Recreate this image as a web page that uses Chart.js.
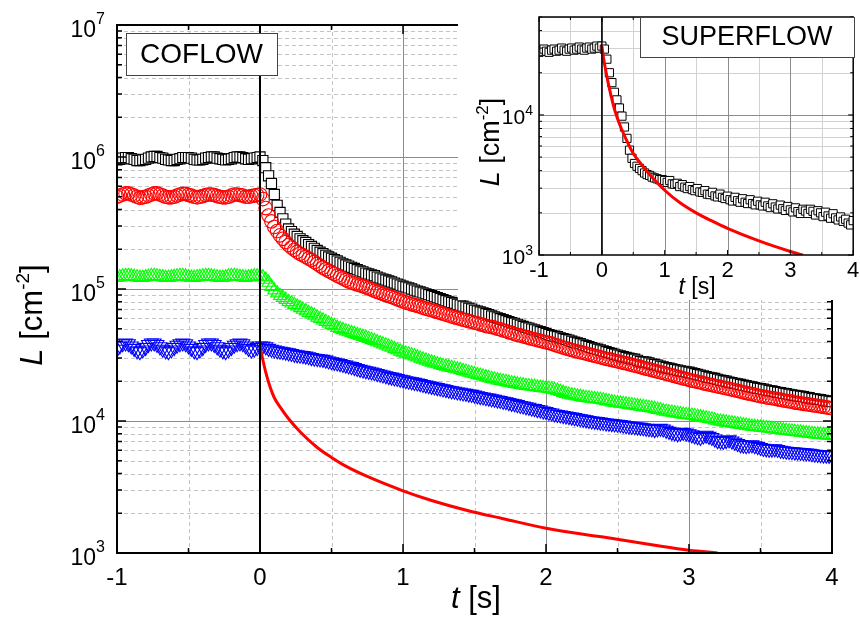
<!DOCTYPE html>
<html><head><meta charset="utf-8">
<script src="https://cdn.jsdelivr.net/npm/chart.js@4.4.0/dist/chart.umd.min.js"></script>
<style>
html,body{margin:0;padding:0;background:#fff;}
#wrap{position:relative;width:860px;height:617px;overflow:hidden;}
#main{position:absolute;left:0;top:0;}
#insetBox{position:absolute;left:458px;top:0;width:402px;height:300px;background:#fff;}
</style></head><body>
<div id="wrap">
<canvas id="main" width="860" height="617"></canvas>
<div id="insetBox"><canvas id="inset" width="402" height="300"></canvas></div>
</div>
<script>
// ---------------- DATA ----------------
// main (COFLOW) sampling times [s]
const tSec = [-1,-0.98,-0.96,-0.94,-0.92,-0.9,-0.88,-0.86,-0.84,-0.82,-0.8,-0.78,-0.76,-0.74,-0.72,-0.7,-0.68,-0.66,-0.64,-0.62,
-0.6,-0.58,-0.56,-0.54,-0.52,-0.5,-0.48,-0.46,-0.44,-0.42,-0.4,-0.38,-0.36,-0.34,-0.32,-0.3,-0.28,-0.26,-0.24,-0.22,
-0.2,-0.18,-0.16,-0.14,-0.12,-0.1,-0.08,-0.06,-0.04,-0.02,
0,0.02,0.04,0.06,0.08,0.1,0.12,0.14,0.16,0.18,0.2,0.22,0.24,0.26,0.28,0.3,0.32,0.34,0.36,0.38,
0.4,0.42,0.44,0.46,0.48,0.5,0.52,0.54,0.56,0.58,0.6,0.62,0.64,0.66,0.68,0.7,0.72,0.74,0.76,0.78,
0.8,0.82,0.84,0.86,0.88,0.9,0.92,0.94,0.96,0.98,1,1.02,1.04,1.06,1.08,1.1,1.12,1.14,1.16,1.18,
1.2,1.22,1.24,1.26,1.28,1.3,1.32,1.34,1.36,1.38,1.4,1.42,1.44,1.46,1.48,1.5,1.52,1.54,1.56,1.58,
1.6,1.62,1.64,1.66,1.68,1.7,1.72,1.74,1.76,1.78,1.8,1.82,1.84,1.86,1.88,1.9,1.92,1.94,1.96,1.98,
2,2.02,2.04,2.06,2.08,2.1,2.12,2.14,2.16,2.18,2.2,2.22,2.24,2.26,2.28,2.3,2.32,2.34,2.36,2.38,
2.4,2.42,2.44,2.46,2.48,2.5,2.52,2.54,2.56,2.58,2.6,2.62,2.64,2.66,2.68,2.7,2.72,2.74,2.76,2.78,
2.8,2.82,2.84,2.86,2.88,2.9,2.92,2.94,2.96,2.98,3,3.02,3.04,3.06,3.08,3.1,3.12,3.14,3.16,3.18,
3.2,3.22,3.24,3.26,3.28,3.3,3.32,3.34,3.36,3.38,3.4,3.42,3.44,3.46,3.48,3.5,3.52,3.54,3.56,3.58,
3.6,3.62,3.64,3.66,3.68,3.7,3.72,3.74,3.76,3.78,3.8,3.82,3.84,3.86,3.88,3.9,3.92,3.94,3.96,3.98,4];

// vortex line density L, in units of 10^3 cm^-2
const coflowBlack = [950,960,980,990,990,970,960,940,940,950,960,980,1000,1010,1010,990,980,960,950,940,
940,960,970,990,990,990,980,960,950,950,960,980,990,1000,1000,980,970,960,950,960,
970,990,1000,1000,990,970,960,970,980,990,
1000,940,830,720,630,520,430,380,340,310,285,272,260,250,240,232,225,217,210,203,
196,190,185,180,175,171,167,163,159,155,152,149,146,143,140,137,135,132,130,128,
126,123,121,119,117,115,113,111,109,107,105,103.5,102,100,98,96.5,95,93.5,92,90.5,
89,87.5,86,84.5,83,81.5,80,79,78,76.5,75.5,74,73,71.5,70.5,69,68,67,66,65,
64,62.5,61.5,60.5,59.5,58.5,57.5,56.5,55.5,55,54,53,52,51.2,50.5,49.7,49,48.2,47.5,46.7,
46,45.2,44.5,44,43.5,42.7,42,41.5,41,40.2,39.5,39,38.5,37.8,37.2,36.6,36,35.5,35,34.5,
34,33.5,33,32.5,32,31.6,31.2,30.7,30.3,29.9,29.5,29.4,28.8,28.2,28,27.9,27.5,27,26.8,26.5,
26,25.7,25.4,25.1,24.8,24.5,24.3,24,23.8,23.6,23.4,23.1,22.8,22.5,22.3,22,21.7,21.4,21.2,21,
20.7,20.4,20.2,20,19.7,19.5,19.3,19.1,18.9,18.7,18.5,18.3,18.1,17.9,17.7,17.6,17.4,17.2,17,16.9,
16.7,16.5,16.4,16.2,16.1,15.9,15.8,15.6,15.5,15.4,15.3,15.1,15,14.8,14.7,14.6,14.5,14.3,14.2,14.1,14];

const coflowRed = [500,510,520,530,530,520,510,500,490,495,500,510,520,530,530,520,510,500,495,495,
500,510,520,525,525,515,510,500,495,500,505,515,520,520,515,505,500,495,495,500,
510,520,520,515,510,500,500,505,510,515,
520,480,410,360,325,295,275,255,240,227,215,206,198,191,185,180,175,170,166,160,
155,150,145,141,137,133,130,126,123,120,117,114,112,110,108,106.5,105,103,101,99,
97,95,93.5,91.5,90,88.5,87,85.5,83.5,82,80.5,79,78,76.5,75.5,74.5,73.5,72,71,70,
69,68,67,66,65,64,63,62,61,60.5,59.5,58.5,58,57,56.5,55.5,55,54,53.5,52.5,
52,51.5,51,50,49.5,48.5,48,47,46.5,45.5,45,44.5,43.8,43.2,42.6,42,41.5,41,40.5,40,
39.5,39,38.5,37.8,37.2,36.6,36,35.5,35,34.5,34,33.6,33.2,32.8,32.4,32,31.6,31.2,30.8,30.4,
30,29.6,29.3,29,28.6,28.3,28,27.6,27.3,27,26.6,26.3,26,25.6,25.3,24.9,24.6,24.3,24,23.7,
23.4,23.1,22.8,22.5,22.2,21.9,21.6,21.3,21,20.8,20.5,20.2,20,19.8,19.6,19.3,19.1,18.9,18.7,18.5,
18.3,18.1,17.9,17.7,17.5,17.3,17.1,16.9,16.7,16.5,16.3,16.1,16,15.8,15.6,15.4,15.3,15.1,15,14.9,
14.8,14.6,14.5,14.3,14.2,14.1,14,13.8,13.7,13.6,13.5,13.4,13.3,13.2,13.1,13,12.9,12.8,12.7,12.6,12.5];

const coflowGreen = [122,123,125,126,126,125,124,123,122,122,123,124,126,126,125,124,123,122,122,123,
124,125,126,126,125,123,122,122,123,124,125,126,126,125,124,123,122,122,123,125,
126,126,125,124,123,122,123,124,125,125,
125,123,118,112,104,98,93,89,86,83,80,78,76,74,72,70,68,66,64.5,63,
61,59.5,58,56.5,55,53.5,52.5,51,50,49,48,47.2,46.5,45.7,45,44.2,43.5,42.8,42,41.2,
40.5,39.7,39,38.2,37.5,36.7,36,35.2,34.5,33.7,33,32.5,32,31.5,31,30.4,29.8,29.3,28.8,28.3,
27.8,27.4,27,26.6,26.2,25.9,25.6,25.3,25,24.7,24.4,24,23.7,23.3,23,22.7,22.4,22.1,21.8,21.5,
21.2,20.9,20.7,20.4,20.2,20,19.8,19.6,19.4,19.2,19,18.8,18.7,18.5,18.4,18.3,18.2,18,17.9,17.8,
17.7,17.6,17.4,17.2,17,16.7,16.4,16.1,15.9,15.7,15.6,15.4,15.3,15.1,15,14.9,14.8,14.7,14.6,14.5,
14.4,14.2,14.1,13.9,13.8,13.7,13.6,13.5,13.4,13.3,13.2,13.1,13,12.9,12.8,12.7,12.6,12.5,12.4,12.2,
12.1,11.9,11.8,11.7,11.6,11.5,11.4,11.3,11.2,11.15,11.1,11,10.9,10.8,10.7,10.6,10.5,10.4,10.3,10.15,
10,9.92,9.85,9.77,9.7,9.62,9.55,9.47,9.4,9.32,9.25,9.17,9.1,9.05,9,8.95,8.9,8.85,8.8,8.72,
8.65,8.6,8.55,8.5,8.45,8.4,8.35,8.3,8.25,8.2,8.15,8.1,8.05,8,7.95,7.92,7.9,7.85,7.8,7.78,7.75];

const coflowBlue = [35,37,38.5,39,38.5,37,35.5,34,33.5,34.5,36,38,39,39,38,36.5,35,34,33.5,34.5,
36,37.5,38.5,39,38.5,37,35.5,34,33.5,34.5,36,38,39,39,38,36.5,35,34,33.5,34.5,
36,37.5,38.5,39,38.5,37,35.5,34.5,35,36,
37,37,36.5,35.5,35,34.5,34,33.8,33.5,33.2,32.8,32.5,32,31.7,31.5,31.3,31,30.7,30.2,29.9,
29.7,29.5,29.3,28.9,28.5,28.1,27.8,27.5,27.2,26.8,26.5,26.1,25.8,25.4,25,24.6,24.3,24,23.8,23.5,
23.2,22.9,22.6,22.3,22,21.7,21.5,21.2,21,20.7,20.5,20.2,20,19.8,19.6,19.4,19.2,18.9,18.7,18.5,
18.3,18.1,17.9,17.7,17.5,17.3,17.1,16.9,16.8,16.6,16.5,16.3,16.2,16,15.9,15.7,15.5,15.3,15.2,15,
14.9,14.7,14.6,14.4,14.3,14.1,14,13.8,13.6,13.5,13.3,13.1,13,12.8,12.7,12.5,12.4,12.2,12.1,11.9,
11.8,11.6,11.5,11.3,11.2,11.1,11,10.9,10.8,10.7,10.6,10.5,10.4,10.3,10.2,10.1,10,9.95,9.9,9.8,
9.75,9.65,9.6,9.55,9.5,9.45,9.4,9.3,9.2,9.15,9.1,9.05,9,8.95,8.9,8.8,8.75,8.7,8.6,8.7,
8.8,8.7,8.5,8.35,8.2,8.1,8,8.1,8.2,8.1,8,7.85,7.7,7.6,7.5,7.7,7.8,7.65,7.5,7.3,
7.1,7.05,7,7.1,7.2,7.05,6.9,6.75,6.6,6.55,6.5,6.55,6.6,6.5,6.4,6.3,6.2,6.15,6.1,6.12,
6.15,6.08,6,5.95,5.9,5.88,5.85,5.82,5.8,5.78,5.75,5.72,5.7,5.65,5.6,5.58,5.55,5.52,5.5,5.48,5.45];

// Vinen-model decay curve (red line), COFLOW panel
const coflowTheoryT = [0,0.02,0.04,0.07,0.1,0.14,0.2,0.28,0.4,0.5,0.6,0.75,1.0,1.2,1.45,1.7,2.0,2.4,2.75,3.0,3.2];
const coflowTheoryL = [36.6,29,23.5,18.2,15,12.8,10.4,8.3,6.3,5.3,4.55,3.8,2.96,2.5,2.1,1.82,1.54,1.32,1.15,1.05,1.0];

// SUPERFLOW inset
const superT = [-1,-0.96,-0.92,-0.88,-0.84,-0.8,-0.76,-0.72,-0.68,-0.64,-0.6,-0.56,-0.52,-0.48,-0.44,-0.4,-0.36,-0.32,-0.28,-0.24,-0.2,-0.16,-0.12,-0.08,-0.04,
0,0.04,0.08,0.12,0.16,0.2,0.24,0.28,0.32,0.36,0.4,0.44,0.48,0.52,0.56,0.6,0.64,0.68,0.72,0.76,0.8,0.84,0.88,0.92,0.96,1,
1.04,1.08,1.12,1.16,1.2,1.24,1.28,1.32,1.36,1.4,1.44,1.48,1.52,1.56,1.6,1.64,1.68,1.72,1.76,1.8,1.84,1.88,1.92,1.96,2,
2.04,2.08,2.12,2.16,2.2,2.24,2.28,2.32,2.36,2.4,2.44,2.48,2.52,2.56,2.6,2.64,2.68,2.72,2.76,2.8,2.84,2.88,2.92,2.96,3,
3.04,3.08,3.12,3.16,3.2,3.24,3.28,3.32,3.36,3.4,3.44,3.48,3.52,3.56,3.6,3.64,3.68,3.72,3.76,3.8,3.84,3.88,3.92,3.96,4];
const superBlack = [28,28.5,29.5,28.5,28,29,29.5,28.5,29,30,29,28.5,29.5,30,29,29.5,30.5,29.5,29,30,30.5,29.5,30,31,30,
31,29.5,25,20,17,14.5,12.8,11.2,9.8,8.2,
6.8,5.6,4.9,4.5,4.3,4.15,4.0,3.85,3.75,3.7,3.6,3.55,3.5,3.45,3.45,3.4,
3.3,3.4,3.22,3.2,3.25,3.08,3.18,3.05,2.98,3.08,2.93,2.88,2.98,2.82,2.8,2.88,2.72,2.7,2.8,2.64,2.6,2.72,2.58,2.53,2.63,
2.48,2.43,2.58,2.44,2.38,2.52,2.38,2.33,2.48,2.33,2.28,2.42,2.28,2.24,2.38,2.24,2.18,2.32,2.2,2.13,2.27,2.14,2.08,2.22,2.1,
2.03,2.17,2.04,1.98,2.12,2.06,1.98,2.12,2.05,1.93,2.07,2.0,1.88,2.02,1.9,1.83,1.97,1.84,1.78,1.87,1.74,1.8,1.69,1.64,1.76];
const superTheoryT = [0,0.03,0.06,0.1,0.15,0.2,0.25,0.3,0.4,0.5,0.6,0.75,1.0,1.25,1.5,1.75,2.0,2.5,3.0,3.2];
const superTheoryL = [31,25,21,17,13.5,11,9.4,8.2,6.5,5.3,4.6,3.8,2.9,2.35,2.0,1.75,1.55,1.26,1.06,1.0];

const mainXTicks = [-1,0,1,2,3,4];
const mainYExp = [3,4,5,6,7];
const insetXTicks = [-1,0,1,2,3,4];
const insetYExp = [3,4];

// ---------------- HELPERS ----------------
const FONT = '"Liberation Sans", Arial, sans-serif';
const KILO = 1e3; // data arrays are in 10^3 cm^-2
const pts = (ts, ls) => ts.map((t, i) => ({x: t, y: ls[i] * KILO}));

function drawPow(ctx, exp, xRight, y, f1, f2, dyBase, dyExp) {
  ctx.save();
  ctx.fillStyle = '#000';
  ctx.textAlign = 'right'; ctx.textBaseline = 'alphabetic';
  ctx.font = f2 + 'px ' + FONT;
  const we = ctx.measureText(String(exp)).width;
  ctx.fillText(String(exp), xRight, y + dyExp);
  ctx.font = f1 + 'px ' + FONT;
  ctx.fillText('10', xRight - we, y + dyBase);
  ctx.restore();
}

function drawRich(ctx, parts, cx, by, F) {
  const fontOf = p => (p.it ? 'italic ' : '') + (p.sup ? Math.round(F * 0.62) : F) + 'px ' + FONT;
  let w = 0;
  parts.forEach(p => { ctx.font = fontOf(p); p.w = ctx.measureText(p.t).width; w += p.w; });
  let x = cx - w / 2;
  ctx.textAlign = 'left'; ctx.textBaseline = 'alphabetic'; ctx.fillStyle = '#000';
  parts.forEach(p => { ctx.font = fontOf(p); ctx.fillText(p.t, x, by - (p.sup ? F * 0.42 : 0)); x += p.w; });
}

function gridPlugin(cfg) {
  const yList = ys => {
    const out = [];
    for (let e = Math.floor(Math.log10(ys.min) + 1e-9); e <= Math.ceil(Math.log10(ys.max) - 1e-9); e++)
      for (let m = 1; m <= 9; m++) {
        const v = m * Math.pow(10, e);
        if (v >= ys.min * 0.999 && v <= ys.max * 1.001) out.push({v, major: m === 1});
      }
    return out;
  };
  const xList = xs => {
    const out = [];
    for (let v = xs.min; v <= xs.max + 1e-9; v += 0.5) out.push({v, major: Math.abs(v - Math.round(v)) < 1e-9});
    return out;
  };
  return {
    id: 'grid_' + cfg.id,
    beforeDatasetsDraw(chart) {
      const {ctx, chartArea: a, scales: {x: xs, y: ys}} = chart;
      ctx.save();
      ctx.beginPath(); ctx.rect(a.left, a.top, a.right - a.left, a.bottom - a.top); ctx.clip();
      ctx.lineWidth = 1;
      const xv = xList(xs), yv = yList(ys);
      const line = (x1, y1, x2, y2) => { ctx.beginPath(); ctx.moveTo(x1, y1); ctx.lineTo(x2, y2); ctx.stroke(); };
      ctx.strokeStyle = cfg.minorColor; ctx.setLineDash(cfg.minorDash);
      xv.filter(o => !o.major).forEach(o => { const p = Math.round(xs.getPixelForValue(o.v)) + 0.5; line(p, a.top, p, a.bottom); });
      yv.filter(o => !o.major).forEach(o => { const p = Math.round(ys.getPixelForValue(o.v)) + 0.5; line(a.left, p, a.right, p); });
      ctx.strokeStyle = cfg.majorColor; ctx.setLineDash([]);
      xv.filter(o => o.major).forEach(o => { const p = Math.round(xs.getPixelForValue(o.v)) + 0.5; line(p, a.top, p, a.bottom); });
      yv.filter(o => o.major).forEach(o => { const p = Math.round(ys.getPixelForValue(o.v)) + 0.5; line(a.left, p, a.right, p); });
      ctx.restore();
    },
    afterDatasetsDraw(chart) {
      const {ctx, chartArea: a, scales: {x: xs, y: ys}} = chart;
      ctx.save();
      ctx.strokeStyle = '#000'; ctx.lineWidth = cfg.zeroWidth;
      const zx = xs.getPixelForValue(0);
      ctx.beginPath(); ctx.moveTo(zx, a.top); ctx.lineTo(zx, a.bottom); ctx.stroke();
      ctx.lineWidth = cfg.tickWidth;
      xList(xs).forEach(o => {
        const L = o.major ? cfg.tickMajor : cfg.tickMinor;
        const p = xs.getPixelForValue(o.v);
        ctx.beginPath(); ctx.moveTo(p, a.bottom); ctx.lineTo(p, a.bottom - L);
        ctx.moveTo(p, a.top); ctx.lineTo(p, a.top + L); ctx.stroke();
      });
      yList(ys).forEach(o => {
        const L = o.major ? cfg.tickMajor : cfg.tickMinor;
        const p = ys.getPixelForValue(o.v);
        ctx.beginPath(); ctx.moveTo(a.left, p); ctx.lineTo(a.left + L, p);
        ctx.moveTo(a.right, p); ctx.lineTo(a.right - L, p); ctx.stroke();
      });
      ctx.lineWidth = cfg.frameWidth;
      ctx.strokeRect(a.left, a.top, a.right - a.left, a.bottom - a.top);
      ctx.fillStyle = '#000';
      cfg.yExp.forEach(e => drawPow(ctx, e, cfg.yLabRight, ys.getPixelForValue(Math.pow(10, e)), cfg.yF1, cfg.yF2, cfg.yDyBase, cfg.yDyExp));
      ctx.font = cfg.xF + 'px ' + FONT; ctx.textAlign = 'center'; ctx.textBaseline = 'alphabetic';
      cfg.xTicks.forEach(v => ctx.fillText(String(v), xs.getPixelForValue(v), cfg.xLabBase));
      drawRich(ctx, [{t: 't', it: true}, {t: ' [s]'}], cfg.xTitle[0], cfg.xTitle[1], cfg.titleF);
      ctx.save();
      ctx.translate(cfg.yTitle[0], cfg.yTitle[1]); ctx.rotate(-Math.PI / 2);
      drawRich(ctx, [{t: 'L', it: true}, {t: ' [cm'}, {t: '-2', sup: true}, {t: ']'}], 0, 0, cfg.yTitleF);
      ctx.restore();
      const b = cfg.box;
      ctx.fillStyle = '#fff'; ctx.fillRect(b.x, b.y, b.w, b.h);
      ctx.strokeStyle = '#444'; ctx.lineWidth = 1;
      ctx.strokeRect(b.x + 0.5, b.y + 0.5, b.w, b.h);
      ctx.fillStyle = '#000'; ctx.font = b.f + 'px ' + FONT; ctx.textAlign = 'center'; ctx.textBaseline = 'middle';
      ctx.fillText(b.text, b.x + b.w / 2, b.y + b.h / 2 + 1);
      ctx.restore();
    }
  };
}

// ---------------- MAIN CHART ----------------
new Chart(document.getElementById('main'), {
  type: 'scatter',
  data: {
    datasets: [
      {data: pts(coflowTheoryT, coflowTheoryL), showLine: true, borderColor: '#ff0000', borderWidth: 3, pointRadius: 0, cubicInterpolationMode: 'monotone', order: 0},
      {data: pts(tSec, coflowBlue), pointStyle: 'triangle', rotation: 180, pointRadius: 8, pointBorderColor: '#0000ff', pointBackgroundColor: 'rgba(0,0,0,0)', pointBorderWidth: 1.1, order: 1},
      {data: pts(tSec, coflowGreen), pointStyle: 'triangle', pointRadius: 7.5, pointBorderColor: '#00ff00', pointBackgroundColor: 'rgba(0,0,0,0)', pointBorderWidth: 1.1, order: 2},
      {data: pts(tSec, coflowRed), pointStyle: 'circle', pointRadius: 6.8, pointBorderColor: '#ff0000', pointBackgroundColor: 'rgba(0,0,0,0)', pointBorderWidth: 1.1, order: 3},
      {data: pts(tSec, coflowBlack), pointStyle: 'rect', pointRadius: 7.2, pointBorderColor: '#000', pointBackgroundColor: '#fff', pointBorderWidth: 1.1, order: 4}
    ]
  },
  options: {
    responsive: false, animation: false, devicePixelRatio: 1,
    layout: {padding: {left: 117, right: 28, top: 25, bottom: 64}},
    scales: {
      x: {type: 'linear', min: -1, max: 4, display: false},
      y: {type: 'logarithmic', min: 1e3, max: 1e7, display: false}
    },
    plugins: {legend: {display: false}, tooltip: {enabled: false}}
  },
  plugins: [gridPlugin({
    id: 'main', minorColor: '#c4c4c4', minorDash: [4, 3], majorColor: '#8c8c8c',
    zeroWidth: 2, tickWidth: 1.5, tickMajor: 9, tickMinor: 5, frameWidth: 2,
    yExp: mainYExp, yLabRight: 105, yF1: 23, yF2: 16, yDyBase: 11.5, yDyExp: -1,
    xTicks: mainXTicks, xF: 24, xLabBase: 585,
    xTitle: [476, 608], yTitle: [42, 315], titleF: 31, yTitleF: 31,
    box: {x: 126, y: 33, w: 151, h: 42, text: 'COFLOW', f: 28}
  })]
});

// ---------------- INSET CHART ----------------
new Chart(document.getElementById('inset'), {
  type: 'scatter',
  data: {
    datasets: [
      {data: pts(superTheoryT, superTheoryL), showLine: true, borderColor: '#ff0000', borderWidth: 3, pointRadius: 0, cubicInterpolationMode: 'monotone', order: 0},
      {data: pts(superT, superBlack), pointStyle: 'rect', pointRadius: 5.8, pointBorderColor: '#000', pointBackgroundColor: '#fff', pointBorderWidth: 1, order: 1}
    ]
  },
  options: {
    responsive: false, animation: false, devicePixelRatio: 1,
    layout: {padding: {left: 81, right: 4, top: 17, bottom: 45}},
    scales: {
      x: {type: 'linear', min: -1, max: 4, display: false},
      y: {type: 'logarithmic', min: 1e3, max: 5e4, display: false}
    },
    plugins: {legend: {display: false}, tooltip: {enabled: false}}
  },
  plugins: [gridPlugin({
    id: 'inset', minorColor: '#d2d2d2', minorDash: [], majorColor: '#8c8c8c',
    zeroWidth: 1.5, tickWidth: 1, tickMajor: 5, tickMinor: 3, frameWidth: 1.5,
    yExp: insetYExp, yLabRight: 75, yF1: 21, yF2: 14, yDyBase: 9, yDyExp: 0,
    xTicks: insetXTicks, xF: 22, xLabBase: 277,
    xTitle: [239, 294], yTitle: [41, 142], titleF: 23, yTitleF: 27,
    box: {x: 182, y: 17, w: 214, h: 40, text: 'SUPERFLOW', f: 27}
  })]
});
</script>
</body></html>
